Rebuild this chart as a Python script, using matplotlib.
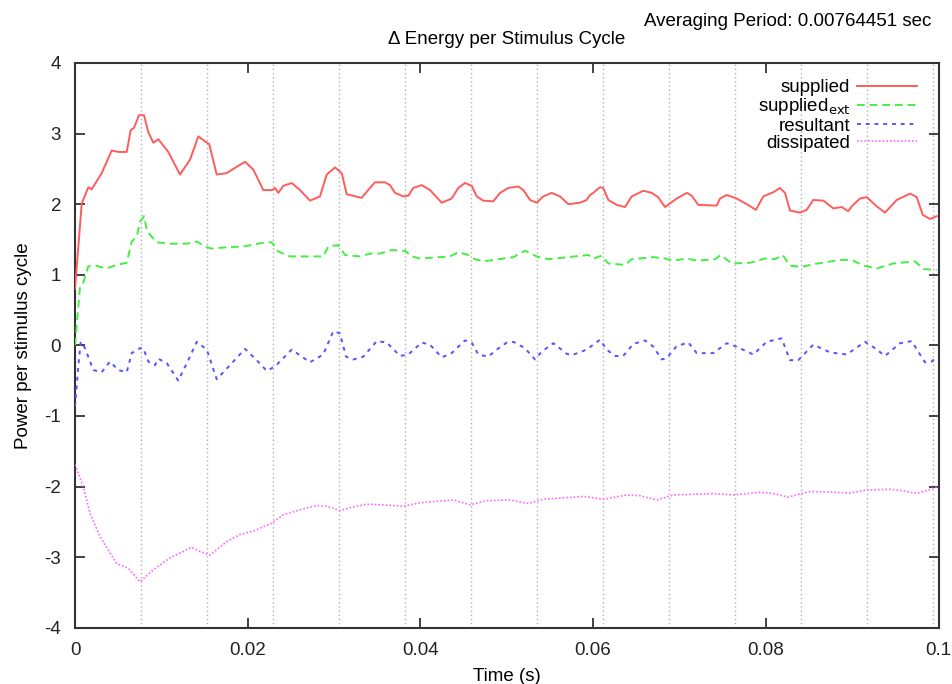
import numpy as np
import matplotlib
matplotlib.use("Agg")
import matplotlib.pyplot as plt

plt.rcParams['font.family'] = ['Liberation Sans', 'DejaVu Sans']
plt.rcParams['axes.unicode_minus'] = False

# supplied
t_sup = [0.0, 0.00078, 0.00154, 0.00193, 0.00309, 0.00425, 0.00501, 0.00599, 0.00645, 0.00683,
         0.00741, 0.00799, 0.00849, 0.00907, 0.00965, 0.01080, 0.01216, 0.01332, 0.01428, 0.01505,
         0.01555, 0.01641, 0.01757, 0.01873, 0.01969, 0.02065, 0.02181, 0.02278, 0.02316, 0.02354,
         0.02412, 0.02510, 0.02606, 0.02721, 0.02837, 0.02915, 0.03011, 0.03089, 0.03147, 0.03320,
         0.03416, 0.03474, 0.03590, 0.03648, 0.03706, 0.03802, 0.03860, 0.03918, 0.04015, 0.04111,
         0.04247, 0.04362, 0.04439, 0.04516, 0.04594, 0.04652, 0.04728, 0.04844, 0.04922, 0.05018,
         0.05134, 0.05192, 0.05269, 0.05347, 0.05423, 0.05520, 0.05617, 0.05713, 0.05848, 0.05926,
         0.05964, 0.06002, 0.06080, 0.06118, 0.06176, 0.06273, 0.06369, 0.06447, 0.06581, 0.06679,
         0.06752, 0.06833, 0.06968, 0.07084, 0.07142, 0.07218, 0.07431, 0.07470, 0.07547, 0.07663,
         0.07779, 0.07886, 0.07971, 0.08087, 0.08164, 0.08222, 0.08280, 0.08396, 0.08474, 0.08550,
         0.08666, 0.08782, 0.08879, 0.08955, 0.08995, 0.09091, 0.09168, 0.09284, 0.09380, 0.09516,
         0.09670, 0.09748, 0.09817, 0.09902, 0.09979]
y_sup = [0.80, 2.01, 2.24, 2.21, 2.44, 2.76, 2.74, 2.74, 3.05, 3.08,
         3.26, 3.26, 3.02, 2.87, 2.92, 2.74, 2.42, 2.63, 2.96, 2.89,
         2.85, 2.42, 2.44, 2.53, 2.60, 2.49, 2.20, 2.20, 2.23, 2.16,
         2.26, 2.30, 2.20, 2.05, 2.11, 2.42, 2.52, 2.44, 2.14, 2.09,
         2.23, 2.31, 2.31, 2.27, 2.16, 2.11, 2.12, 2.23, 2.27, 2.20,
         2.02, 2.08, 2.23, 2.30, 2.26, 2.11, 2.05, 2.04, 2.16, 2.23,
         2.25, 2.20, 2.06, 2.02, 2.11, 2.16, 2.11, 2.00, 2.02, 2.06,
         2.13, 2.16, 2.24, 2.23, 2.06, 1.99, 1.96, 2.11, 2.19, 2.16,
         2.10, 1.96, 2.08, 2.16, 2.12, 1.99, 1.98, 2.08, 2.13, 2.08,
         2.00, 1.92, 2.11, 2.17, 2.23, 2.16, 1.91, 1.88, 1.92, 2.06,
         2.05, 1.94, 1.96, 1.90, 1.97, 2.08, 2.10, 1.97, 1.88, 2.06,
         2.15, 2.10, 1.85, 1.79, 1.83]

# supplied_ext
t_ext = [0.0, 0.00058, 0.00096, 0.00154, 0.00232, 0.00367, 0.00483, 0.00599, 0.00657, 0.00715,
         0.00753, 0.00799, 0.00837, 0.00947, 0.01100, 0.01294, 0.01410, 0.01505, 0.01583, 0.01757,
         0.01950, 0.02162, 0.02278, 0.02354, 0.02490, 0.02875, 0.02933, 0.03049, 0.03127, 0.03300,
         0.03416, 0.03532, 0.03667, 0.03822, 0.03900, 0.03995, 0.04343, 0.04439, 0.04555, 0.04632,
         0.04728, 0.05076, 0.05211, 0.05347, 0.05481, 0.05945, 0.06002, 0.06099, 0.06176, 0.06369,
         0.06447, 0.06698, 0.06833, 0.06929, 0.07084, 0.07200, 0.07412, 0.07478, 0.07605, 0.07817,
         0.07991, 0.08107, 0.08195, 0.08280, 0.08415, 0.08550, 0.08860, 0.08995, 0.09129, 0.09284,
         0.09477, 0.09728, 0.09824, 0.09979]
y_ext = [0.00, 0.83, 0.89, 1.12, 1.13, 1.09, 1.14, 1.17, 1.47, 1.54,
         1.75, 1.83, 1.61, 1.46, 1.44, 1.44, 1.47, 1.40, 1.37, 1.39,
         1.40, 1.45, 1.46, 1.33, 1.26, 1.26, 1.40, 1.42, 1.28, 1.26,
         1.30, 1.30, 1.35, 1.34, 1.26, 1.23, 1.26, 1.32, 1.28, 1.22,
         1.19, 1.25, 1.34, 1.26, 1.22, 1.28, 1.23, 1.27, 1.16, 1.14,
         1.22, 1.25, 1.23, 1.20, 1.23, 1.20, 1.22, 1.28, 1.16, 1.17,
         1.23, 1.22, 1.28, 1.13, 1.11, 1.15, 1.21, 1.21, 1.13, 1.09,
         1.16, 1.19, 1.08, 1.07]

# resultant
t_res = [0.0, 0.00038, 0.00066, 0.00116, 0.00212, 0.00309, 0.00405, 0.00501, 0.00599, 0.00657,
         0.00753, 0.00791, 0.00849, 0.00927, 0.00965, 0.01062, 0.01196, 0.01312, 0.01410, 0.01526,
         0.01641, 0.01795, 0.01969, 0.02104, 0.02220, 0.02316, 0.02510, 0.02721, 0.02875, 0.02991,
         0.03069, 0.03138, 0.03223, 0.03339, 0.03494, 0.03610, 0.03764, 0.03860, 0.04015, 0.04111,
         0.04247, 0.04362, 0.04516, 0.04594, 0.04671, 0.04786, 0.04884, 0.05000, 0.05076, 0.05211,
         0.05327, 0.05404, 0.05539, 0.05695, 0.05752, 0.05926, 0.06080, 0.06157, 0.06253, 0.06349,
         0.06466, 0.06601, 0.06698, 0.06795, 0.06853, 0.06968, 0.07103, 0.07200, 0.07392, 0.07547,
         0.07663, 0.07856, 0.08010, 0.08183, 0.08280, 0.08376, 0.08550, 0.08744, 0.08936, 0.09149,
         0.09264, 0.09380, 0.09554, 0.09689, 0.09766, 0.09843, 0.09921, 0.09979]
y_res = [-0.87, -0.30, 0.05, -0.04, -0.35, -0.38, -0.23, -0.35, -0.38, -0.11,
         -0.04, -0.04, -0.23, -0.28, -0.19, -0.25, -0.50, -0.21, 0.05, -0.06,
         -0.48, -0.28, -0.05, -0.21, -0.36, -0.30, -0.06, -0.24, -0.13, 0.20,
         0.17, -0.16, -0.20, -0.16, 0.06, 0.04, -0.15, -0.13, 0.04, 0.01,
         -0.17, -0.11, 0.07, 0.04, -0.13, -0.16, -0.06, 0.04, 0.05, -0.04,
         -0.20, -0.09, 0.03, -0.12, -0.14, -0.06, 0.08, -0.06, -0.15, -0.15,
         0.02, 0.07, -0.02, -0.20, -0.18, -0.01, 0.04, -0.11, -0.11, 0.03,
         -0.02, -0.13, 0.05, 0.10, -0.21, -0.21, 0.01, -0.10, -0.13, 0.05,
         -0.04, -0.15, 0.03, 0.06, -0.09, -0.24, -0.23, -0.16]

# dissipated
t_dis = [0.0, 0.00096, 0.00174, 0.00290, 0.00483, 0.00618, 0.00753, 0.00907, 0.01100, 0.01254,
         0.01350, 0.01448, 0.01564, 0.01757, 0.01911, 0.02065, 0.02278, 0.02412, 0.02606, 0.02799,
         0.02915, 0.03069, 0.03185, 0.03378, 0.03571, 0.03803, 0.03995, 0.04189, 0.04381, 0.04574,
         0.04768, 0.05037, 0.05253, 0.05427, 0.05887, 0.06118, 0.06389, 0.06543, 0.06736, 0.06929,
         0.07392, 0.07624, 0.07933, 0.08087, 0.08260, 0.08511, 0.08974, 0.09168, 0.09438, 0.09592,
         0.09747, 0.09979]
y_dis = [-1.69, -2.00, -2.38, -2.71, -3.09, -3.16, -3.35, -3.18, -3.01, -2.92,
         -2.86, -2.92, -2.97, -2.78, -2.68, -2.63, -2.52, -2.40, -2.33, -2.27,
         -2.28, -2.34, -2.30, -2.25, -2.26, -2.28, -2.23, -2.21, -2.19, -2.26,
         -2.20, -2.19, -2.24, -2.18, -2.14, -2.18, -2.12, -2.13, -2.19, -2.12,
         -2.10, -2.12, -2.08, -2.10, -2.15, -2.07, -2.09, -2.05, -2.04, -2.06,
         -2.10, -2.01]

period = 0.00764451
x_ticks = [0, 0.02, 0.04, 0.06, 0.08, 0.1]
x_ticklabels = ['0', '0.02', '0.04', '0.06', '0.08', '0.1']
y_ticks = [-4, -3, -2, -1, 0, 1, 2, 3, 4]

fig = plt.figure(figsize=(9.53, 6.84), dpi=100)
ax = fig.add_axes([0.0787, 0.0823, 0.9061, 0.8256])

# stimulus cycle boundaries
k = 1
while k * period < 0.1:
    ax.axvline(k * period, color='#b0b0b0', lw=1.0, ls=(0, (1, 2)), zorder=1)
    k += 1

ax.plot(t_sup, y_sup, color='#ff5c5c', lw=1.4, ls='-', label='supplied', zorder=3)
ax.plot(t_ext, y_ext, color='#44ee44', lw=1.4, ls=(0, (4, 2.5)), label='supplied$_{\\mathrm{ext}}$', zorder=3)
ax.plot(t_res, y_res, color='#5555ff', lw=1.4, ls=(0, (2, 2.5)), label='resultant', zorder=3)
ax.plot(t_dis, y_dis, color='#ff66ff', lw=1.2, ls=(0, (1, 1.2)), label='dissipated', zorder=3)

ax.set_xlim(0, 0.1)
ax.set_ylim(-4, 4)
ax.set_xticks(x_ticks)
ax.set_xticklabels(x_ticklabels)
ax.set_yticks(y_ticks)
ax.tick_params(direction='in', length=7, width=1.2, top=True, right=True,
               labelsize=13.5, pad=10, colors='#222222')
for s in ax.spines.values():
    s.set_linewidth(1.5)
    s.set_color('#333333')

ax.set_xlabel('Time (s)', fontsize=13.5, labelpad=7)
ax.set_ylabel('Power per stimulus cycle', fontsize=13.5, labelpad=9)

fig.text(0.532, 0.942, '\u0394 Energy per Stimulus Cycle', ha='center', va='center', fontsize=13.5)
fig.text(0.827, 0.968, 'Averaging Period: 0.00764451 sec', ha='center', va='center', fontsize=13.5)

leg = ax.legend(loc='upper right', frameon=False, fontsize=13.5, handlelength=3.2,
                markerfirst=False, labelspacing=0.0, borderaxespad=0, borderpad=0,
                handletextpad=0.35, bbox_to_anchor=(0.975, 0.971))
for txt in leg.get_texts():
    txt.set_ha('right')
leg._legend_box.align = 'right'

fig.savefig('out.png', dpi=100, facecolor='white')
